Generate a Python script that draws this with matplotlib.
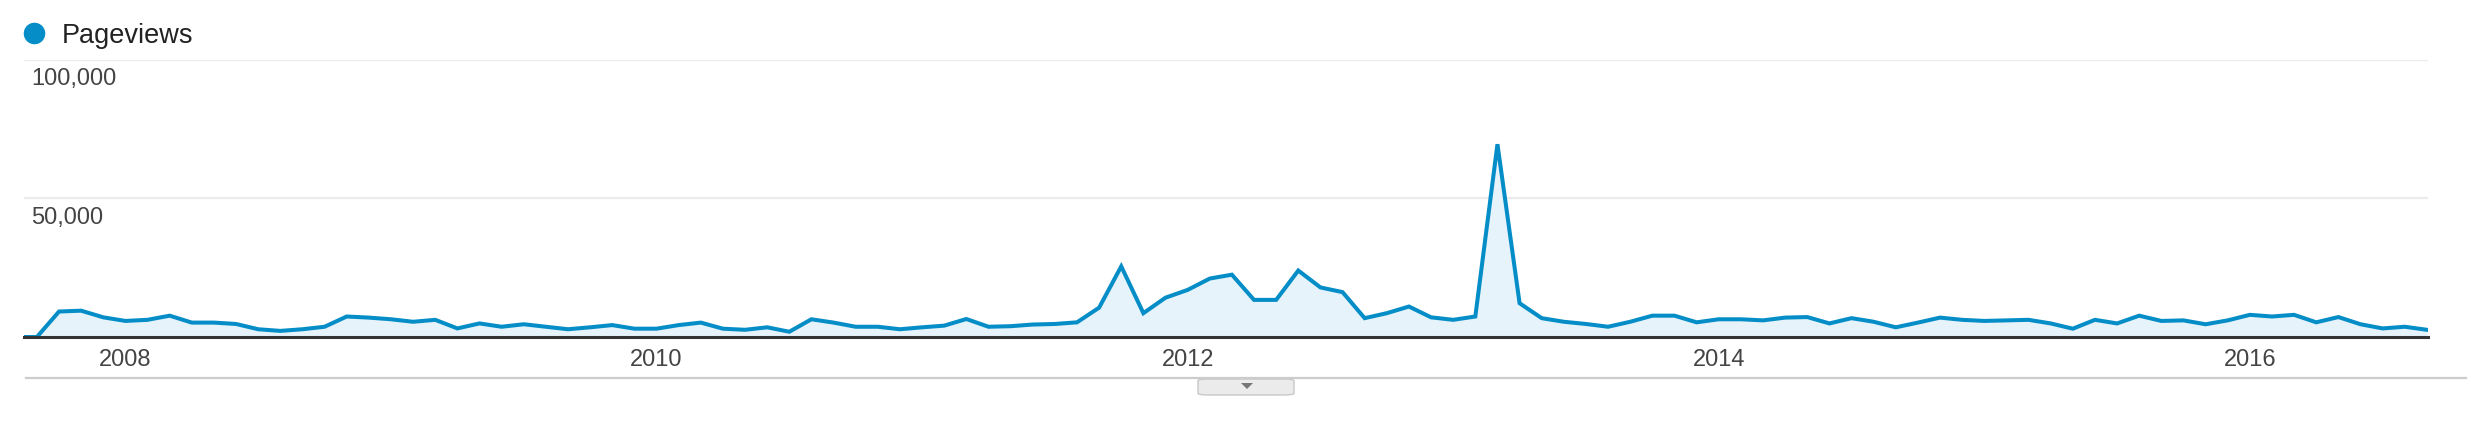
import matplotlib.pyplot as plt
from matplotlib.lines import Line2D
from matplotlib.patches import FancyBboxPatch, Polygon

plt.rcParams['font.family'] = ['Liberation Sans', 'DejaVu Sans']

# monthly pageviews, Aug 2007 .. Sep 2016 (month index -1 .. 108)
meses = list(range(-1, 109))
pageviews = [
    0, 0, 9200, 9500, 7100, 5800, 6200, 7700, 5200, 5200, 4700, 2800,
    2200, 2800, 3700, 7400, 7000, 6400, 5500, 6200, 3100, 4900, 3700, 4600,
    3700, 2800, 3500, 4300, 3000, 3000, 4300, 5200, 3000, 2600, 3500, 1900,
    6400, 5200, 3700, 3700, 2800, 3500, 4100, 6500, 3700, 3900, 4500, 4700,
    5300, 10600, 25500, 8600, 14200, 17000, 21100, 22500, 13400, 13400, 24000, 17900,
    16200, 6800, 8600, 11000, 7100, 6200, 7400, 69600, 12200, 6800, 5500, 4700,
    3700, 5500, 7700, 7700, 5300, 6400, 6400, 6000, 7000, 7200, 4900, 6800,
    5500, 3500, 5200, 7000, 6200, 5800, 6000, 6200, 4900, 3000, 6200, 4900,
    7700, 5800, 6000, 4600, 6000, 8000, 7400, 8000, 5300, 7200, 4600, 3100,
    3700, 2600,
]
year_pos = [4, 28, 52, 76, 100]   # January of each year
year_labels = ['2008', '2010', '2012', '2014', '2016']
y_ticks = [50000, 100000]
y_tick_labels = ['50,000', '100,000']

W, H = 2492, 430
fig = plt.figure(figsize=(W / 100, H / 100), dpi=100)
ax = fig.add_axes([24 / W, (H - 337) / H, (2428 - 24) / W, (337 - 60) / H])

azul = '#058DC7'
ax.fill_between(meses, pageviews, 0, color='#E6F3FA', lw=0)
ax.plot(meses, pageviews, color=azul, lw=2.9, solid_joinstyle='miter')

ax.set_xlim(-0.583, 108.05)
ax.set_ylim(0, 100000)

for s in ['top', 'left', 'right']:
    ax.spines[s].set_visible(False)
ax.spines['bottom'].set_color('#333333')
ax.spines['bottom'].set_linewidth(2.2)
ax.spines['bottom'].set_zorder(5)

ax.set_yticks(y_ticks)
ax.set_yticklabels([])
ax.tick_params(axis='y', length=0)
ax.grid(axis='y', color='#EBEBEB', lw=1.6)
ax.set_axisbelow(True)
for v, lab in zip(y_ticks, y_tick_labels):
    ax.annotate(lab, xy=(0, v), xycoords=('axes fraction', 'data'),
                xytext=(5, -6), textcoords='offset points',
                ha='left', va='top', fontsize=17, color='#444444')

ax.set_xticks(year_pos)
ax.set_xticklabels(year_labels, fontsize=17, color='#444444')
ax.tick_params(axis='x', length=0, pad=9)

# linea inferior y pestaña del selector
fig.add_artist(Line2D([26 / W, 2466 / W], [(H - 378) / H] * 2,
                      transform=fig.transFigure, color='#CCCCCC', lw=1.6))
tab = FancyBboxPatch((1198 / W, (H - 395) / H), 96 / W, 16 / H,
                     boxstyle='round,pad=0,rounding_size=0.004',
                     transform=fig.transFigure, fc='#EBEBEB', ec='#C8C8C8', lw=1)
fig.add_artist(tab)
fig.add_artist(Polygon([[1241 / W, (H - 383) / H], [1253 / W, (H - 383) / H],
                        [1247 / W, (H - 389) / H]], closed=True,
                       transform=fig.transFigure, fc='#777777', ec='none'))

# leyenda
fig.add_artist(Line2D([34 / W], [(H - 33) / H], transform=fig.transFigure,
                      marker='o', markersize=14.5, color=azul, lw=0))
fig.text(62 / W, (H - 43) / H, 'Pageviews', fontsize=19.5, color='#222222',
         ha='left', va='baseline')

fig.savefig('out.png', dpi=100, facecolor='white')
